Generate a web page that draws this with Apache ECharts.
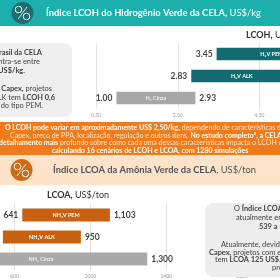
<!DOCTYPE html>
<html><head><meta charset="utf-8">
<script src="https://cdn.jsdelivr.net/npm/echarts@6/dist/echarts.min.js"></script>
<style>html,body{margin:0;padding:0;background:#fff}#c{width:280px;height:280px}</style>
</head><body><div id="c"></div>
<script>
// ---- data ----
const h2Categories = ['H₂V PEM', 'H₂V ALK', 'H₂ Cinza'];
const h2Low = [3.45, 2.83, 1.00];
const h2High = [6.15, 5.30, 2.93];
const h2Ticks = [0.5, 2.5, 4.5];
const nh3Categories = ['NH₃V PEM', 'NH₃V ALK', 'NH₃ Cinza'];
const nh3Low = [641, 539, 180];
const nh3High = [1103, 950, 1300];
const nh3Ticks = [600, 1000, 1400];

// ---- styles ----
const FONT = 'Lato, "Open Sans", sans-serif';
const h2Colors = ['#116b70', '#116b70', '#a7a7a7'];
const nh3Colors = ['#c7600f', '#c7600f', '#a9a9a9'];
const innerWeights = ['bold', 'bold', 'normal'];

function rangeRender(cats, colors, fmt, ratio) {
  return function (params, api) {
    const i = api.value(0), lo = api.value(1), hi = api.value(2);
    const a = api.coord([lo, i]), b = api.coord([hi, i]);
    const h = api.size([0, 1])[1] * ratio;
    const y = a[1];
    return {
      type: 'group', children: [
        { type: 'rect', shape: { x: a[0], y: y - h / 2, width: b[0] - a[0], height: h }, style: { fill: colors[i] } },
        { type: 'text', style: { text: fmt(lo), x: a[0] - 4, y: y, align: 'right', verticalAlign: 'middle', font: 'bold 8.5px ' + FONT, fill: '#444' } },
        { type: 'text', style: { text: fmt(hi), x: b[0] + 4, y: y, align: 'left', verticalAlign: 'middle', font: 'bold 8.5px ' + FONT, fill: '#444' } },
        { type: 'text', style: { text: cats[i], x: (a[0] + b[0]) / 2, y: y, align: 'center', verticalAlign: 'middle', font: innerWeights[i] + ' 5.5px ' + FONT, fill: '#fff' } }
      ]
    };
  };
}

function line(x, y, parts, opts) {
  opts = opts || {};
  const size = opts.size || 7.4;
  const c1 = opts.bold || '#444', c2 = opts.reg || c1;
  let text = '';
  parts.forEach(p => { text += '{' + (p[1] ? 'b' : 'r') + '|' + p[0] + '}'; });
  return {
    type: 'text', z: opts.z || 120,
    style: {
      text: text, x: x, y: y, align: opts.align || 'left', verticalAlign: 'middle',
      rich: {
        b: { fontFamily: FONT, fontWeight: 'bold', fontSize: size, fill: c1 },
        r: { fontFamily: FONT, fontWeight: 'normal', fontSize: size, fill: c2 }
      }
    }
  };
}

const OR = { size: 7, bold: '#fff', reg: '#fde3cb' };
const graphics = [
  { type: 'rect', z: -10, shape: { x: 0, y: 0, width: 280, height: 26 }, style: { fill: '#1cafab' } },
  { type: 'rect', z: -10, shape: { x: 0, y: 122, width: 280, height: 33 }, style: { fill: '#f07b1a' } },
  { type: 'rect', z: -10, shape: { x: 0, y: 155, width: 280, height: 30 }, style: { fill: '#fde3c9' } },
  { type: 'circle', z: 5, shape: { cx: 22.5, cy: 13, r: 11 }, style: { fill: '#1f6d70' } },
  { type: 'circle', z: 6, shape: { cx: 18.5, cy: 9.5, r: 3.3 }, style: { fill: 'none', stroke: '#fff', lineWidth: 1 } },
  { type: 'circle', z: 6, shape: { cx: 26.5, cy: 16.5, r: 3.3 }, style: { fill: 'none', stroke: '#fff', lineWidth: 1 } },
  { type: 'line', z: 6, shape: { x1: 27, y1: 7, x2: 18, y2: 19 }, style: { stroke: '#fff', lineWidth: 0.8 } },
  { type: 'circle', z: 5, shape: { cx: 21.5, cy: 170, r: 11 }, style: { fill: '#cf6a17' } },
  { type: 'circle', z: 6, shape: { cx: 17.5, cy: 166.5, r: 3.3 }, style: { fill: 'none', stroke: '#fff', lineWidth: 1 } },
  { type: 'circle', z: 6, shape: { cx: 25.5, cy: 173.5, r: 3.3 }, style: { fill: 'none', stroke: '#fff', lineWidth: 1 } },
  { type: 'line', z: 6, shape: { x1: 26, y1: 164, x2: 17, y2: 176 }, style: { stroke: '#fff', lineWidth: 0.8 } },
  // boxes
  { type: 'rect', z: 100, shape: { x: -12, y: 43, width: 84, height: 74, r: 8 }, style: { fill: '#efefef' } },
  { type: 'rect', z: 100, shape: { x: 205, y: 203, width: 90, height: 74, r: 8 }, style: { fill: '#ededed' } },
  // header texts
  line(46, 13, [['Índice LCOH do Hidrogênio Verde da CELA,', true], [' US$/kg', false]], { size: 9.4, bold: '#fff' }),
  line(53, 170, [['Índice LCOA da Amônia Verde da CELA', true], [', US$/ton', false]], { size: 9.4, bold: '#555' }),
  // chart titles
  line(246, 35.5, [['LCOH,', true], [' US$/kg', false]], { size: 9, bold: '#333' }),
  line(78, 195.5, [['LCOA,', true], [' US$/ton', false]], { size: 9, bold: '#333', align: 'center' }),
  // left box
  line(42, 53, [['O Índice LCOH do Hidrogênio Verde do Brasil da CELA', true]], { align: 'right' }),
  line(40, 62, [['atualmente encontra-se entre', false]], { align: 'right' }),
  line(25, 71, [['2,83 e 6,15 US$/kg.', true]], { align: 'right' }),
  line(52, 89, [['Atualmente, devido ao menor custo ', false], ['de Capex,', true], [' projetos', false]], { align: 'right' }),
  line(55, 97.5, [['com eletrolisador ALK tem ', false], ['LCOH 0,6', true]], { align: 'right' }),
  line(43, 106, [['US$/kg menor que projetos do tipo PEM.', false]], { align: 'right' }),
  // right box
  line(234, 208.5, [['O ', false], ['Índice LCOA da Amônia Verde', true]]),
  line(236, 218, [['atualmente encontra-se entre', false]]),
  line(259, 227, [['539 a 1.103 US$/ton.', true]]),
  line(221, 245, [['Atualmente, devido ao menor', false]]),
  line(209, 252.5, [['Capex,', true], [' projetos com eletrolisador', false]]),
  line(215, 260, [['tem ', false], ['LCOA 125 US$/ton', true], [' menor', false]]),
  line(272, 267.5, [['projetos PEM.', false]]),
  // orange band
  line(5, 128, [['O LCOH pode variar em aproximadamente US$ 2,50/kg,', true], [' dependendo de características do projeto, como', false]], OR),
  line(10, 135.5, [['Capex, preço de PPA, localização, regulação e outros itens. ', false], ['No estudo completo¹, a CELA fornece', true]], OR),
  line(-1, 143, [['detalhamento mais', true], [' profundo sobre como cada uma dessas características impacta o LCOH de um', false]], OR),
  line(150, 150.5, [['calculando 16 cenários de LCOH e LCOA, com 1280 simulações', true]], { size: 7, bold: '#fff', align: 'center' })
];

function valueAxis(idx, ticks, max, fmt) {
  return {
    type: 'value', gridIndex: idx, min: ticks[0], max: max, interval: ticks[1] - ticks[0],
    axisLine: { show: false }, axisTick: { show: false },
    splitLine: { show: true, lineStyle: { color: '#e2e2e2', width: 1 } },
    axisLabel: { show: true, fontSize: 5, color: '#999', margin: 3.5, fontFamily: FONT, formatter: fmt, showMaxLabel: false }
  };
}
function catAxis(idx, cats) {
  return {
    type: 'category', gridIndex: idx, data: cats, inverse: true,
    axisLine: { show: false }, axisTick: { show: false }, axisLabel: { show: false }, splitLine: { show: false }
  };
}

const fmt2 = v => Number(v).toFixed(2);
const fmtK = v => Number(v).toLocaleString('en-US');

const chart = echarts.init(document.getElementById('c'), null, { renderer: 'canvas' });
chart.setOption({
  backgroundColor: '#fff',
  animation: false,
  grid: [
    { left: 96, top: 43, width: 189, height: 66 },
    { left: 14.5, top: 204, width: 274.75, height: 66 }
  ],
  xAxis: [
    valueAxis(0, h2Ticks, 5.0, v => v.toFixed(2)),
    valueAxis(1, nh3Ticks, 2000, v => String(v))
  ],
  yAxis: [catAxis(0, h2Categories), catAxis(1, nh3Categories)],
  series: [
    {
      type: 'custom', xAxisIndex: 0, yAxisIndex: 0, clip: false, z: 10,
      encode: { x: [1, 2], y: 0 },
      data: h2Categories.map((c, i) => [i, h2Low[i], h2High[i]]),
      renderItem: rangeRender(h2Categories, h2Colors, fmt2, 0.57)
    },
    {
      type: 'custom', xAxisIndex: 1, yAxisIndex: 1, clip: false, z: 10,
      encode: { x: [1, 2], y: 0 },
      data: nh3Categories.map((c, i) => [i, nh3Low[i], nh3High[i]]),
      renderItem: rangeRender(nh3Categories, nh3Colors, fmtK, 0.6)
    }
  ],
  graphic: graphics
});
</script>
</body></html>
